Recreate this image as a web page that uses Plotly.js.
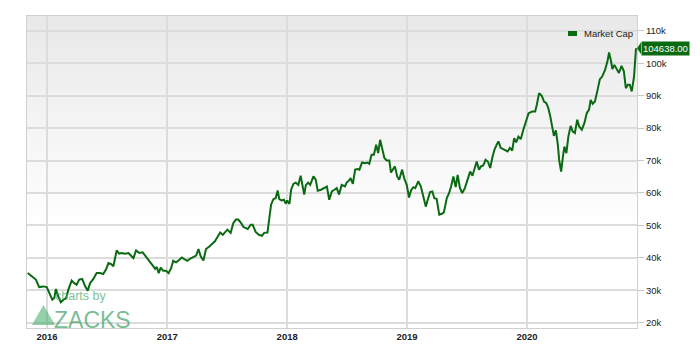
<!DOCTYPE html>
<html>
<head>
<meta charset="utf-8">
<script src="https://cdn.plot.ly/plotly-3.0.1.min.js"></script>
<style>
  html, body { margin: 0; padding: 0; background: #ffffff; }
  #chart { width: 700px; height: 351px; }
</style>
</head>
<body>
<div id="chart"></div>
<script>
// ---- Data ----
var seriesName = 'Market Cap';
var dates = [
'2015-11-03','2015-11-15','2015-11-28','2015-12-08','2015-12-21','2015-12-31',
'2016-01-10','2016-01-17','2016-01-23','2016-01-28','2016-02-04','2016-02-12','2016-02-20','2016-02-28',
'2016-03-06','2016-03-16','2016-03-24','2016-03-31','2016-04-08','2016-04-17','2016-04-26',
'2016-05-04','2016-05-11','2016-05-21','2016-05-31','2016-06-10','2016-06-20','2016-06-28',
'2016-07-06','2016-07-14','2016-07-21','2016-07-31','2016-08-07','2016-08-15','2016-08-25',
'2016-09-05','2016-09-15','2016-09-20','2016-09-28','2016-10-08','2016-10-18','2016-10-28',
'2016-11-07','2016-11-18','2016-11-25','2016-11-30','2016-12-06','2016-12-12','2016-12-20','2016-12-28',
'2017-01-05','2017-01-13','2017-01-19','2017-01-28','2017-02-07','2017-02-14','2017-02-22',
'2017-03-03','2017-03-11','2017-03-21','2017-03-30','2017-04-06','2017-04-13','2017-04-21','2017-04-29',
'2017-05-09','2017-05-19','2017-05-26','2017-06-02','2017-06-11','2017-06-19','2017-06-26',
'2017-07-03','2017-07-13','2017-07-21','2017-07-29','2017-08-05','2017-08-14','2017-08-21',
'2017-09-03','2017-09-12','2017-09-18','2017-09-27','2017-10-07','2017-10-16','2017-10-23',
'2017-11-02','2017-11-13','2017-11-20','2017-11-27','2017-12-03','2017-12-08','2017-12-15','2017-12-22','2017-12-28',
'2018-01-01','2018-01-08','2018-01-13','2018-01-20','2018-01-27','2018-02-04','2018-02-11','2018-02-17','2018-02-22','2018-02-27',
'2018-03-06','2018-03-12','2018-03-22','2018-03-29','2018-04-04','2018-04-14','2018-04-24',
'2018-05-02','2018-05-09','2018-05-17','2018-05-25','2018-06-01','2018-06-08','2018-06-16','2018-06-26',
'2018-07-01','2018-07-08','2018-07-13','2018-07-20','2018-07-27','2018-08-03','2018-08-09','2018-08-17','2018-08-26',
'2018-09-02','2018-09-08','2018-09-15','2018-09-22','2018-09-29','2018-10-05','2018-10-11','2018-10-18','2018-10-24','2018-10-31',
'2018-11-08','2018-11-13','2018-11-20','2018-11-25','2018-12-02','2018-12-08','2018-12-17','2018-12-23','2018-12-31',
'2019-01-07','2019-01-13','2019-01-20','2019-01-26','2019-02-04','2019-02-12','2019-02-20','2019-02-27',
'2019-03-05','2019-03-12','2019-03-19','2019-03-25','2019-04-01','2019-04-09','2019-04-17','2019-04-23',
'2019-05-02','2019-05-09','2019-05-15','2019-05-22','2019-05-29','2019-06-04','2019-06-11','2019-06-18','2019-06-26',
'2019-07-03','2019-07-12','2019-07-19','2019-07-25','2019-08-01','2019-08-08','2019-08-14','2019-08-21','2019-08-28',
'2019-09-04','2019-09-11','2019-09-18','2019-09-24','2019-10-01','2019-10-06','2019-10-13','2019-10-21','2019-10-29',
'2019-11-03','2019-11-10','2019-11-17','2019-11-23','2019-11-29','2019-12-06','2019-12-13','2019-12-21','2019-12-29',
'2020-01-06','2020-01-17','2020-01-26','2020-01-31','2020-02-07','2020-02-15','2020-02-22','2020-02-29',
'2020-03-06','2020-03-12','2020-03-18','2020-03-23','2020-03-29','2020-04-04','2020-04-08','2020-04-14','2020-04-19','2020-04-24','2020-04-30',
'2020-05-06','2020-05-13','2020-05-19','2020-05-26','2020-06-02','2020-06-08','2020-06-16','2020-06-24',
'2020-07-01','2020-07-08','2020-07-13','2020-07-19','2020-07-26','2020-08-03','2020-08-10','2020-08-17','2020-08-26',
'2020-09-02','2020-09-07','2020-09-13','2020-09-17','2020-09-23','2020-09-30','2020-10-07','2020-10-15','2020-10-22','2020-10-28',
'2020-11-03','2020-11-09','2020-11-15','2020-11-22','2020-11-28'
];
var marketCap = [
35300,34300,33300,31000,31200,31000,
28600,27100,27600,30400,28100,26300,27100,27600,
30200,33000,32200,31700,33300,33500,31200,
29900,32200,33500,35300,35300,35000,36300,
38400,38100,37400,42300,41300,41500,41300,
41500,40400,39900,42300,41500,41700,40400,
39400,37600,36600,37200,35300,37000,36000,36000,
35300,36900,39100,38600,39400,40100,39600,
39100,39700,40100,40700,42700,40400,39200,42700,
43500,44600,45100,46300,47800,47100,47800,
48700,47700,50700,51800,51800,50700,49500,
48900,50200,50200,48000,47100,46800,47700,
47800,56400,58100,58400,60800,58100,57700,57900,56700,
57700,56600,61000,62800,63200,62500,65300,62000,59500,62500,
63200,62500,65100,64100,60700,61000,61500,
62000,57900,60500,61000,61500,59500,62500,62000,
63200,63800,64600,62800,67200,67400,67200,69400,69200,
69400,69000,71800,71800,74900,72300,76400,73300,70800,70000,
70000,66300,67700,68200,65100,64100,67200,64600,62500,
58600,60800,61800,61500,63600,62000,58900,55800,
57900,60300,60500,58400,58200,53300,53600,54000,
58400,60000,62000,65100,61800,65600,61500,60000,61500,
64100,66600,65300,67700,69700,67200,68200,68500,70200,
69700,67700,71100,73300,74900,75900,73900,73500,73300,
72800,73900,73100,76900,75600,77400,76600,79500,82100,
84600,85100,85100,87200,90800,90000,88200,87700,
86200,83600,80500,77600,79300,74900,70200,66600,70800,74300,72300,
77400,80700,79000,78500,82600,80500,79500,81600,
84600,85700,88700,87500,88200,91800,95100,95900,98000,
100600,103300,100600,98200,99500,98000,97000,99200,97500,92300,
93400,93400,91300,95900,104638
];
var lastValueText = '104638.00';
var xTickVals = ['2016-01-01','2017-01-01','2018-01-01','2019-01-01','2020-01-01'];
var xTickText = ['2016','2017','2018','2019','2020'];
var yTickVals = [20000,30000,40000,50000,60000,70000,80000,90000,100000,110000];
var yTickText = ['20k','30k','40k','50k','60k','70k','80k','90k','100k','110k'];

// ---- Styling ----
var green = '#0a6a12';
var fontFam = '"Liberation Sans", Arial, Helvetica, sans-serif';

var trace = {
  x: dates, y: marketCap, type: 'scatter', mode: 'lines', name: seriesName,
  line: {color: green, width: 2}, showlegend: false, hoverinfo: 'x+y'
};

// background gradient (grey at top fading to white)
var shapes = [];
var nBands = 22;
for (var i = 0; i < nBands; i++) {
  shapes.push({type: 'rect', xref: 'paper', yref: 'paper', x0: 0, x1: 1,
    y0: 0.33 + i * (0.67 / nBands), y1: 1, layer: 'below', line: {width: 0},
    fillcolor: 'rgba(110,110,110,0.0075)'});
}
// last value arrow
shapes.push({type: 'path', xref: 'paper', yref: 'y', xsizemode: 'pixel', ysizemode: 'pixel',
  xanchor: 1, yanchor: marketCap[marketCap.length - 1],
  path: 'M0,0 L4,6 L4,-6 Z', fillcolor: green, line: {width: 0}});
// legend swatch
shapes.push({type: 'rect', xref: 'paper', yref: 'paper', xsizemode: 'pixel', ysizemode: 'pixel',
  xanchor: 1, yanchor: 1, x0: -69, x1: -60, y0: -15, y1: -20,
  fillcolor: green, line: {width: 0}});
// watermark triangle
shapes.push({type: 'path', xref: 'paper', yref: 'paper',
  path: 'M0.008,0.0096 L0.046,0.0096 L0.027,0.074 Z',
  fillcolor: 'rgba(60,170,100,0.55)', line: {width: 0}});

var annotations = [
  {xref: 'paper', yref: 'y', x: 1, y: marketCap[marketCap.length - 1], xanchor: 'left', yanchor: 'middle',
   xshift: 4, text: lastValueText, showarrow: false, bgcolor: green, borderpad: 1,
   font: {family: fontFam, size: 9.5, color: '#ffffff'}},
  {xref: 'paper', yref: 'paper', x: 1, y: 1, xanchor: 'left', yanchor: 'middle',
   xshift: -55, yshift: -17, text: seriesName, showarrow: false,
   font: {family: fontFam, size: 9.5, color: '#222222'}},
  {xref: 'paper', yref: 'paper', x: 0.042, y: 0.102, xanchor: 'left', yanchor: 'middle',
   text: 'charts by', showarrow: false,
   font: {family: fontFam, size: 12.5, color: 'rgba(80,170,110,0.75)'}},
  {xref: 'paper', yref: 'paper', x: 0.041, y: 0.027, xanchor: 'left', yanchor: 'middle',
   text: 'ZACKS', showarrow: false,
   font: {family: fontFam, size: 23, color: 'rgba(60,160,100,0.7)'}}
];

var layout = {
  width: 700, height: 351,
  margin: {l: 27, r: 63, t: 16, b: 23, pad: 0},
  paper_bgcolor: '#ffffff', plot_bgcolor: '#ffffff',
  showlegend: false,
  font: {family: fontFam, size: 9, color: '#222'},
  xaxis: {
    type: 'date', range: ['2015-11-01', '2020-12-01'],
    tickvals: xTickVals, ticktext: xTickText,
    showgrid: true, gridcolor: '#dcdcdc', gridwidth: 2,
    showline: true, linecolor: '#d0d0d0', linewidth: 1, mirror: true,
    ticks: '', zeroline: false,
    tickfont: {family: fontFam, size: 9.5, color: '#222', weight: 'bold'}
  },
  yaxis: {
    side: 'right', range: [18370, 114570],
    tickvals: yTickVals, ticktext: yTickText,
    showgrid: true, gridcolor: '#dcdcdc', gridwidth: 2,
    showline: true, linecolor: '#d0d0d0', linewidth: 1, mirror: true,
    ticks: 'outside', ticklen: 6, tickcolor: '#c8c8c8', tickwidth: 1,
    zeroline: false,
    tickfont: {family: fontFam, size: 9.5, color: '#222'}
  },
  shapes: shapes,
  annotations: annotations
};

Plotly.newPlot('chart', [trace], layout, {displayModeBar: false, staticPlot: true});
</script>
</body>
</html>
